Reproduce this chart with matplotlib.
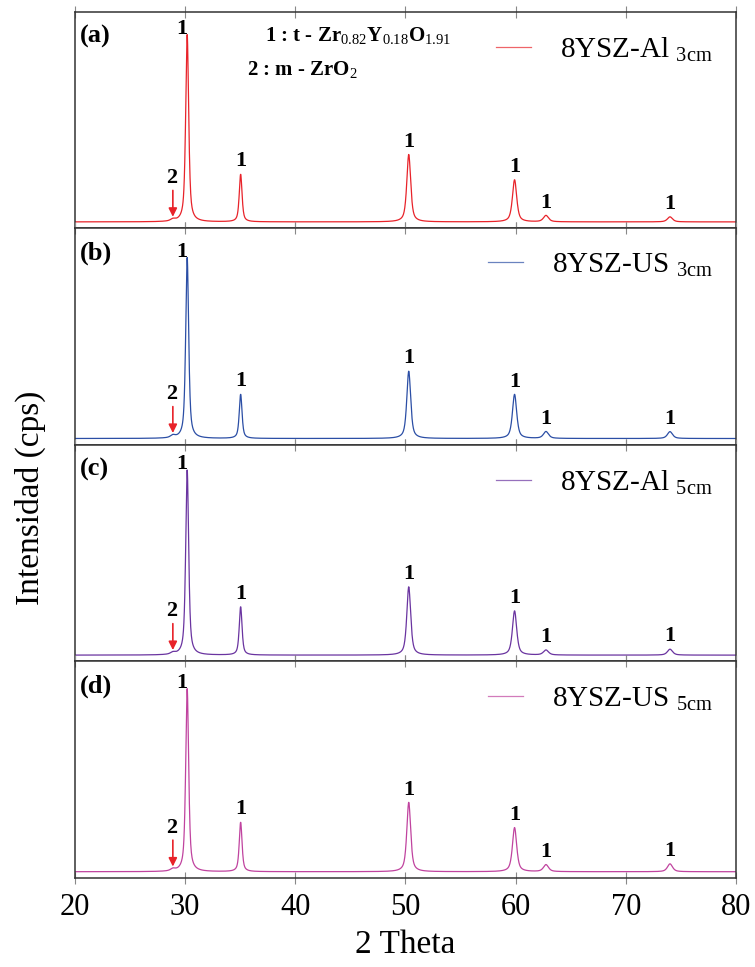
import numpy as np
import matplotlib.pyplot as plt

plt.rcParams['font.family'] = ['Liberation Serif', 'DejaVu Serif']
plt.rcParams['mathtext.fontset'] = 'custom'
plt.rcParams['mathtext.rm'] = 'Liberation Serif'

# peak positions (2 theta)
pos_t = [30.2, 35.05, 50.3, 59.9, 62.75, 74.0]   # 1 : t - Zr0.82Y0.18O1.91
pos_m = 28.9                                       # 2 : m - ZrO2
fwhm_t = [0.32, 0.30, 0.42, 0.46, 0.55, 0.55]
fwhm_m = 0.5

# relative intensities (main peak = 100)
samples = ['8YSZ-Al', '8YSZ-US', '8YSZ-Al', '8YSZ-US']
dist = ['3cm', '3cm', '5cm', '5cm']
tags = ['(a)', '(b)', '(c)', '(d)']
colors = ['#e8232a', '#2b4ea5', '#6a34a0', '#c0439f']
h_a = [100, 25.4, 36.0, 22.5, 3.4, 2.7]
h_b = [100, 24.4, 37.2, 24.4, 3.8, 3.8]
h_c = [100, 26.1, 36.9, 23.9, 2.7, 3.2]
h_d = [100, 27.0, 37.9, 24.1, 3.8, 4.3]
h_m = [1.0, 1.3, 1.0, 1.1]
main_frac = [0.89, 0.86, 0.88, 0.87]   # height of main peak in each panel


def pattern(x, heights, hm):
    y = np.zeros_like(x)
    for p, w, h in zip(pos_t + [pos_m], fwhm_t + [fwhm_m], heights + [hm]):
        lor = 1 / (1 + ((x - p) / (w / 2)) ** 2)
        gau = np.exp(-np.log(2) * ((x - p) / (w / 2)) ** 2)
        y += h * (0.65 * lor + 0.35 * gau)
    return y


x = np.arange(20, 80.001, 0.02)
heights = [h_a, h_b, h_c, h_d]

fig, axes = plt.subplots(4, 1, sharex=True, figsize=(7.55, 9.67), dpi=100)
fig.subplots_adjust(left=0.099, right=0.975, top=0.988, bottom=0.092, hspace=0)

for i, ax in enumerate(axes):
    y = pattern(x, heights[i], h_m[i])
    ax.plot(x, y, color=colors[i], lw=0.9,
            label=samples[i] + r' $_{\rm ' + dist[i] + '}$')
    top = 100 / main_frac[i]
    ax.set_ylim(-0.03 * top, top)
    ax.set_xlim(20, 80)
    ax.set_yticks([])
    ax.tick_params(axis='x', direction='inout', length=9, color='#888888',
                   top=True, bottom=True, labelsize=22, pad=6)
    for s in ax.spines.values():
        s.set_color('#333333')
        s.set_linewidth(1.1)

    # peak labels
    for j, p in enumerate(pos_t):
        ytop = pattern(np.array([p]), heights[i], h_m[i])[0]
        if j == 0:
            ax.annotate('1', (p, ytop), xytext=(-4, 4), textcoords='offset points',
                        ha='center', va='center', fontsize=16, fontweight='bold')
        else:
            ax.annotate('1', (p, ytop), xytext=(0, 2), textcoords='offset points',
                        ha='center', va='bottom', fontsize=16, fontweight='bold')
    # m-ZrO2 arrow
    ym = pattern(np.array([pos_m]), heights[i], h_m[i])[0]
    ax.annotate('', (pos_m, ym), xytext=(0, 20), textcoords='offset points',
                xycoords='data',
                arrowprops=dict(arrowstyle='-|>,head_width=0.25,head_length=0.5',
                                color='#e8232a', lw=1.2, shrinkA=0, shrinkB=1))
    ax.annotate('2', (pos_m, ym), xytext=(-1, 29), textcoords='offset points',
                ha='center', va='center', fontsize=16, fontweight='bold')

    ax.text(0.008, 0.885, tags[i], transform=ax.transAxes, fontsize=19,
            fontweight='bold', va='center', ha='left')
    leg = ax.legend(loc='upper right', frameon=False, fontsize=21,
                    handlelength=1.2, handletextpad=1.0, borderaxespad=0.4)
    for ln in leg.get_lines():
        ln.set_alpha(0.7)

axes[0].text(0.288, 0.885, r'1 : t - Zr$_{0.82}$Y$_{0.18}$O$_{1.91}$',
             transform=axes[0].transAxes, fontsize=15, fontweight='bold', va='center')
axes[0].text(0.26, 0.73, r'2 : m - ZrO$_{2}$',
             transform=axes[0].transAxes, fontsize=15, fontweight='bold', va='center')

axes[-1].set_xticks(np.arange(20, 81, 10))
axes[-1].set_xlabel('2 Theta', fontsize=24, labelpad=6)
fig.text(0.04, 0.485, 'Intensidad (cps)', rotation=90, fontsize=24,
         ha='center', va='center')

fig.savefig('out.png', dpi=100)
